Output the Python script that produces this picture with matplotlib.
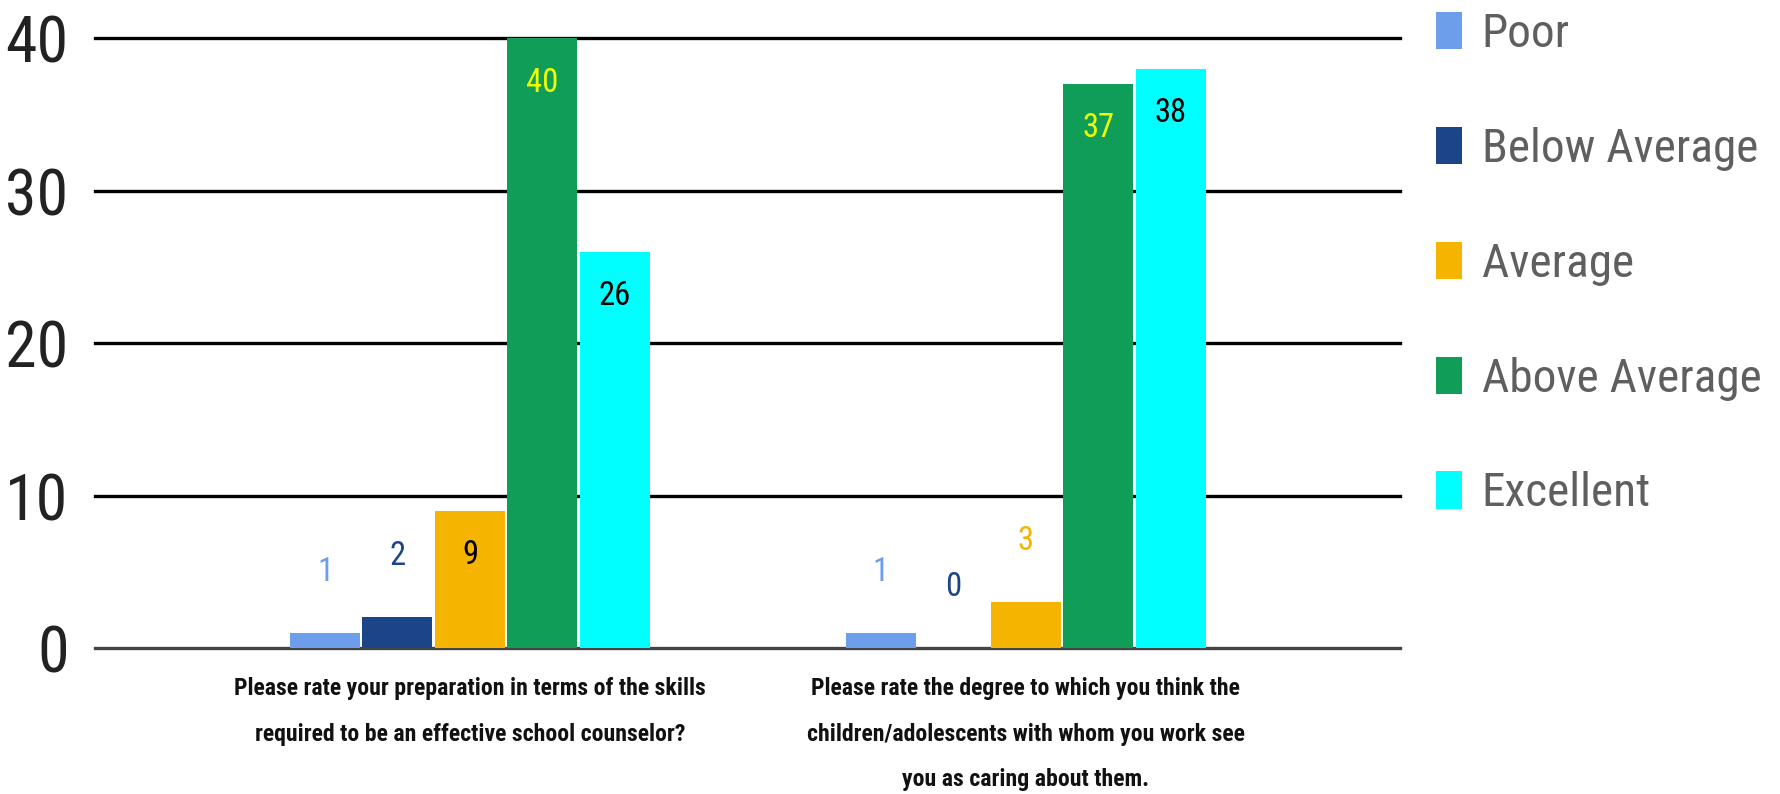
import matplotlib
matplotlib.use("Agg")
import matplotlib.pyplot as plt
import numpy as np

plt.rcParams['font.family'] = ['Roboto Condensed', 'Roboto', 'DejaVu Sans']

questions = ['Please rate your preparation in terms of the skills\nrequired to be an effective school counselor?',
             'Please rate the degree to which you think the\nchildren/adolescents with whom you work see\nyou as caring about them.']
ratings = ['Poor', 'Below Average', 'Average', 'Above Average', 'Excellent']
poor = [1, 1]
below_average = [2, 0]
average = [9, 3]
above_average = [40, 37]
excellent = [26, 38]
yticks = [0, 10, 20, 30, 40]

colors = ['#6d9eeb', '#1c4587', '#f4b400', '#0f9d58', '#00ffff']
inside_colors = ['black', 'white', 'black', '#eeff00', 'black']

series = [poor, below_average, average, above_average, excellent]

fig = plt.figure(figsize=(17.81, 7.94), dpi=100)
ax = fig.add_axes([0.0533, 0.1839, 0.7328, 0.7872])

x = np.arange(len(questions))
slot = 0.1305
width = 0.126

for yv in yticks:
    ax.axhline(yv, color='#444444' if yv == 0 else 'black', linewidth=2.4, zorder=1, clip_on=False)

for i, vals in enumerate(series):
    pos = x + (i - 2) * slot
    bars = ax.bar(pos, vals, width, color=colors[i], label=ratings[i], zorder=2)
    for p, v in zip(pos, vals):
        if v >= 5:
            ax.annotate(str(v), (p, v), xytext=(0, -32), textcoords='offset points',
                        ha='center', va='center', fontsize=23.5, color=inside_colors[i], zorder=3)
        else:
            ax.annotate(str(v), (p, v), xytext=(0, 44), textcoords='offset points',
                        ha='center', va='center', fontsize=23.5, color=colors[i], zorder=3)

ax.set_xlim(-0.675, 1.674)
ax.set_ylim(0, 41)
ax.set_yticks(yticks)
ax.set_yticklabels([str(t) for t in yticks], fontsize=46, color='#222222')
ax.set_xticks(x)
ax.set_xticklabels(questions, fontsize=17.1, fontweight='bold', color='#111111')
for lab in ax.get_xticklabels():
    lab.set_linespacing(2.25)
ax.tick_params(axis='y', length=0, pad=19)
ax.tick_params(axis='x', length=0, pad=21)
for s in ax.spines.values():
    s.set_visible(False)

fig.legend(loc='upper left', bbox_to_anchor=(0.8063, 0.985), frameon=False, fontsize=34,
           handlelength=0.55, handleheight=0.84, handletextpad=0.42, labelspacing=1.50,
           labelcolor='#5f5f5f', borderpad=0.0, borderaxespad=0.0)

fig.savefig('out.png', dpi=100)
